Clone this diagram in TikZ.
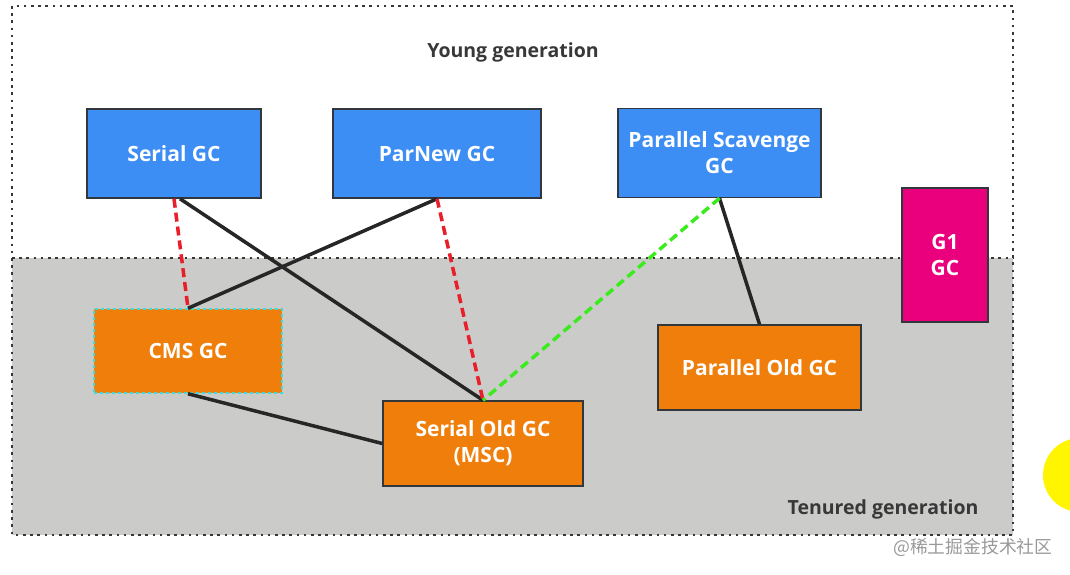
\documentclass[tikz,border=0pt]{standalone}
\usepackage{fontspec}
\setmainfont{Open Sans}
\newfontfamily\cjkfont{Noto Sans CJK SC}
\definecolor{gcblue}{RGB}{60,142,245}
\definecolor{gcorange}{RGB}{240,126,10}
\definecolor{gcpink}{RGB}{234,0,124}
\definecolor{gcgray}{RGB}{203,204,202}
\definecolor{gcborder}{RGB}{50,55,60}
\definecolor{gcdot}{RGB}{55,55,55}
\definecolor{gcred}{RGB}{232,30,40}
\definecolor{gcgreen}{RGB}{60,235,30}
\definecolor{gccyan}{RGB}{60,220,220}
\definecolor{gcyellow}{RGB}{255,245,0}
\begin{document}
\begin{tikzpicture}[x=1pt,y=-1pt,
  gcbox/.style={draw=gcborder,line width=1.5pt,minimum width=#1,text=white,font=\bfseries\fontsize{21}{26}\selectfont,align=center,inner sep=0pt},
  dotline/.style={draw=gcdot,line width=2.8pt,dash pattern=on 2.6pt off 4.6pt},
  solidlink/.style={draw=black!85,line width=3.5pt},
  redlink/.style={draw=gcred,line width=3.5pt,dash pattern=on 9pt off 5pt},
  greenlink/.style={draw=gcgreen,line width=3.5pt,dash pattern=on 9pt off 5pt},
  gentext/.style={text=black!78,font=\bfseries\fontsize{19.5}{24}\selectfont}
]
\useasboundingbox (0,0) rectangle (1070,574);
\fill[white] (0,0) rectangle (1070,574);
% yellow circle at edge
\begin{scope}
\clip (0,0) rectangle (1070,574);
\fill[gcyellow] (1080,475) circle (37);
\end{scope}
% regions
\fill[gcgray] (12,258) rectangle (1013,535);
\draw[dotline] (12,6) rectangle (1013,535);
\draw[dotline] (12,258) -- (1013,258);
\node[gentext] (young) at (513,52) {Young generation};
\node[gentext] (tenured) at (883,509) {Tenured generation};
% nodes
\node[gcbox=174pt,minimum height=89pt,fill=gcblue] (serial) at (174,153.5) {Serial GC};
\node[gcbox=208pt,minimum height=89pt,fill=gcblue] (parnew) at (437,153.5) {ParNew GC};
\node[gcbox=203pt,minimum height=89pt,fill=gcblue] (ps) at (719.5,153) {Parallel Scavenge\\GC};
\node[gcbox=86pt,minimum height=134pt,fill=gcpink] (g1) at (945,255) {G1\\GC};
\node[draw=gccyan,line width=1.5pt,dashed,fill=gcorange,minimum width=188pt,minimum height=84pt,text=white,font=\bfseries\fontsize{21}{26}\selectfont,inner sep=0pt] (cms) at (188,351) {CMS GC};
\node[gcbox=200pt,minimum height=85pt,fill=gcorange] (serialold) at (483,443.5) {Serial Old GC\\(MSC)};
\node[gcbox=203pt,minimum height=85pt,fill=gcorange] (parold) at (759.5,367.5) {Parallel Old GC};
% connectors
\draw[solidlink] ([xshift=6pt]serial.south) -- (serialold.north);
\draw[solidlink] (parnew.south) -- (cms.north);
\draw[solidlink] (ps.south) -- (parold.north);
\draw[solidlink] (cms.south) -- (serialold.west);
\draw[redlink] (serial.south) -- (cms.north);
\draw[redlink] (parnew.south) -- (serialold.north);
\draw[greenlink] (ps.south) -- (serialold.north);
% watermark
\node[text=black!40,font=\cjkfont\fontsize{17.8}{21}\selectfont,anchor=west,inner sep=0pt] (wm) at (893,547) {@稀土掘金技术社区};
\end{tikzpicture}
\end{document}
